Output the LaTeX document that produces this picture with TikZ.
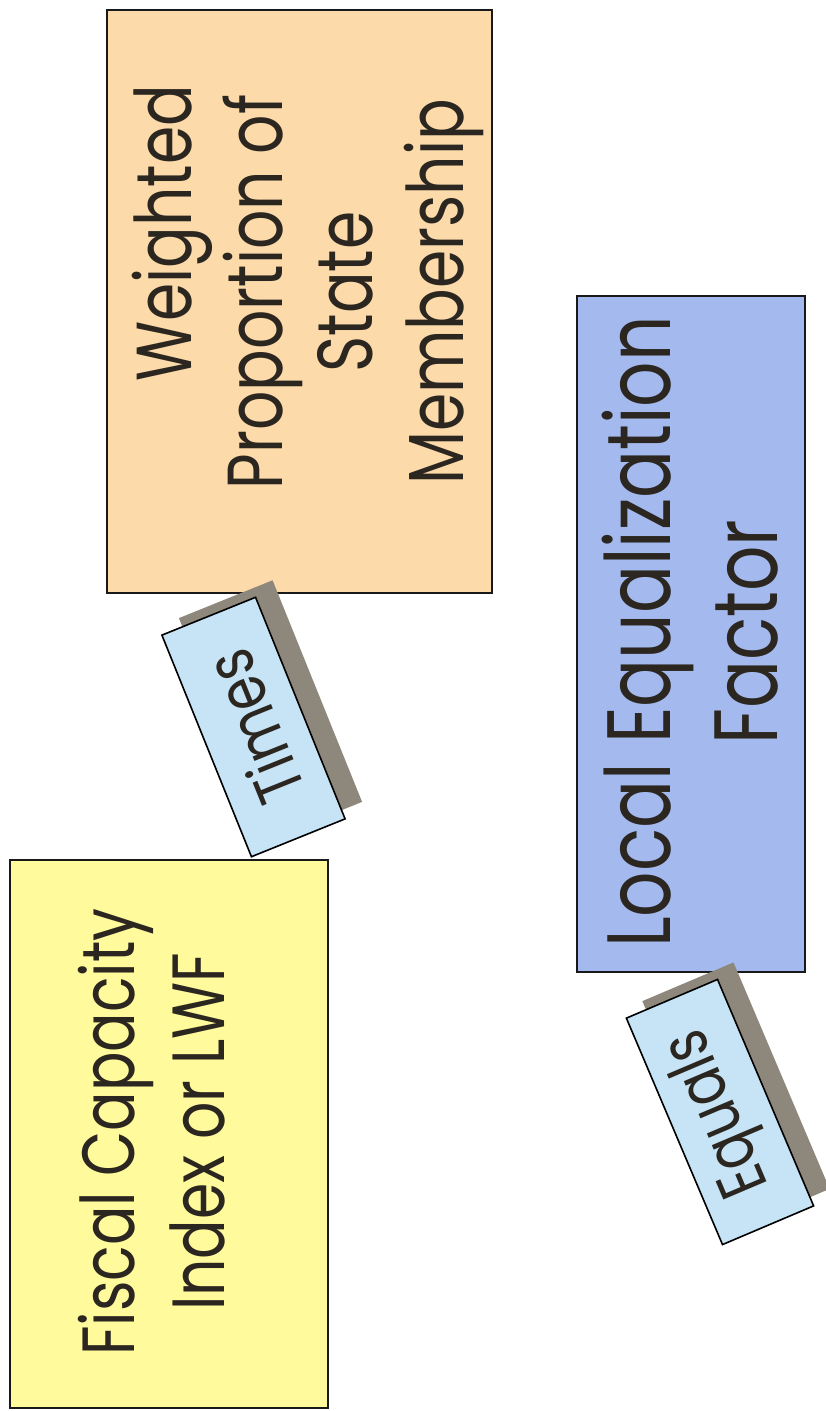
\documentclass[tikz,border=0pt]{standalone}
\usepackage{fontspec}
\setmainfont{Poppins}[FakeStretch=0.79]
\definecolor{fiscalyellow}{RGB}{255,250,155}
\definecolor{weightpeach}{RGB}{252,218,170}
\definecolor{factorblue}{RGB}{164,186,238}
\definecolor{tagblue}{RGB}{198,228,246}
\definecolor{shadowgray}{RGB}{142,135,124}
\definecolor{inkbrown}{RGB}{43,38,32}
\begin{document}
\begin{tikzpicture}[x=1pt,y=-1pt,
    card/.style={draw=black!90, line width=2.4pt, inner sep=0pt},
    cardtext/.style={rotate=90, align=center, text=inkbrown, inner sep=0pt},
    tag/.style={draw=black, line width=1.6pt, fill=tagblue, inner sep=0pt,
        text=inkbrown, font=\fontsize{67}{70}\selectfont},
    tagshadow/.style={fill=shadowgray, inner sep=0pt}]
    \useasboundingbox (0,0) rectangle (826,1411);
    \fill[white] (0,0) rectangle (826,1411);

    % the three cards
    \node[card, fill=fiscalyellow, minimum width=318, minimum height=548] (fiscal) at (169,1134) {};
    \node[card, fill=weightpeach, minimum width=385, minimum height=583] (weighted) at (299.5,301.5) {};
    \node[card, fill=factorblue, minimum width=228, minimum height=676] (factor) at (691,634) {};

    \node[cardtext, font=\fontsize{74}{90}\selectfont] (fiscaltxt) at (152,1132) {Fiscal Capacity\\Index or LWF};
    \node[cardtext, font=\fontsize{78}{90.5}\selectfont] (weightedtxt) at (308,292) {\hspace*{1.5em}Weighted\\Proportion of\\State\\Membership};
    \node[cardtext, font=\fontsize{90}{107}\selectfont] (factortxt) at (690,632) {Local Equalization\\Factor};

    % tilted tags with their shadows
    \node[tagshadow, rotate=112, minimum width=239, minimum height=101] (timesshadow) at (270.5,710) {};
    \node[tag, rotate=112, minimum width=239, minimum height=101] (times) at (253.5,727) {Times};
    \node[tagshadow, rotate=113, minimum width=246, minimum height=99] (equalsshadow) at (736,1095) {};
    \node[tag, rotate=113, minimum width=246, minimum height=99] (equals) at (720,1112) {Equals};
\end{tikzpicture}
\end{document}
